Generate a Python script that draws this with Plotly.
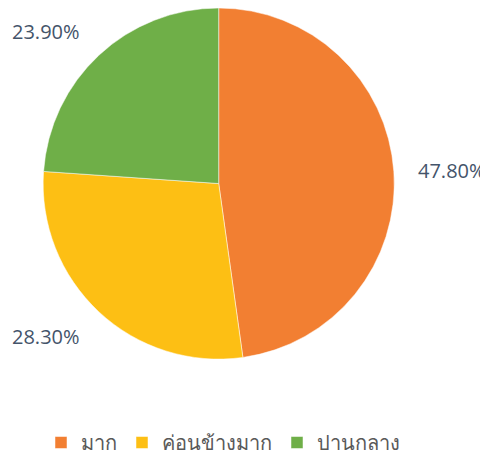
import plotly.graph_objects as go

categories = ["มาก", "ค่อนข้างมาก", "ปานกลาง"]
values = [47.8, 28.3, 23.9]
colors = ["#F27F32", "#FDBF14", "#6FAF48"]

# page body has an 8px margin; figure is drawn from (8, 8)
OFF = 8
W, H = 480, 454
CX, CY, R = 218.7 - OFF, 185.5 - OFF, 177.5

fig = go.Figure(go.Pie(
    labels=categories,
    values=values,
    sort=False,
    direction="clockwise",
    rotation=0,
    marker=dict(colors=colors, line=dict(color="white", width=0.5)),
    textinfo="none",
    hoverinfo="label+percent",
    domain=dict(x=[(CX - R) / W, (CX + R) / W],
                y=[max(0, 1 - (CY + R) / H), min(1, 1 - (CY - R) / H)]),
))

label_pos = [(416, 172), (10, 340), (10, 32)]
for v, (px, py) in zip(values, label_pos):
    fig.add_annotation(
        x=(px - OFF) / W, y=1 - (py - OFF) / H, xref="paper", yref="paper",
        xanchor="left", yanchor="middle", showarrow=False,
        text=f"{v:.2f}%", font=dict(size=20, color="#44546A", family="Open Sans"),
    )

fig.update_layout(
    width=W, height=H,
    margin=dict(l=0, r=0, t=0, b=0),
    paper_bgcolor="white",
    showlegend=True,
    legend=dict(orientation="h", x=(223 - OFF) / W, xanchor="center",
                y=1 - (447.5 - OFF) / H, yanchor="middle",
                font=dict(size=20, color="#595959", family="Noto Sans"),
                itemwidth=30, tracegroupgap=0),
)
fig.write_html("out.html")
